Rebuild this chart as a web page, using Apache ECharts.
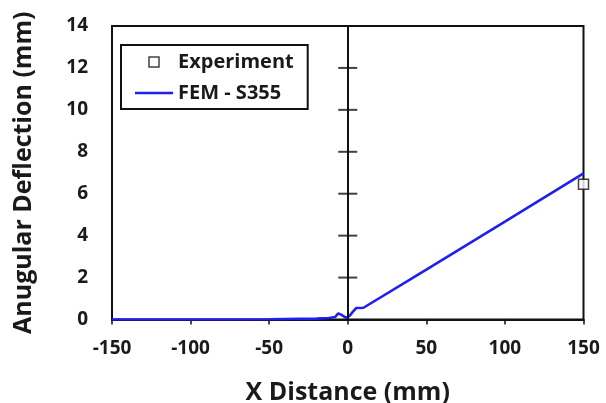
<!DOCTYPE html>
<html>
<head>
<meta charset="utf-8">
<script src="https://cdn.jsdelivr.net/npm/echarts@6/dist/echarts.min.js"></script>
<style>
html,body{margin:0;padding:0;background:#fff;}
#chart{width:606px;height:403px;}
</style>
</head>
<body>
<div id="chart"></div>
<script>
const femX = [-150, -100, -50, -20, -12, -8, -6, -4, -1, 0, 1.5, 3, 5.5, 10, 50, 100, 150];
const femY = [0, 0, 0.01, 0.04, 0.07, 0.12, 0.29, 0.22, 0.08, 0.03, 0.2, 0.35, 0.55, 0.56, 2.38, 4.67, 6.97];
const expX = [150];
const expY = [6.45];
const midTickX = [0, 0, 0, 0, 0, 0];
const midTickY = [2, 4, 6, 8, 10, 12];

const FONT = '"Open Sans", sans-serif';
const TXT = '#1a1a1a';
const BLUE = '#1f1ff0';

const chart = echarts.init(document.getElementById('chart'), null, {renderer: 'canvas'});
chart.setOption({
  animation: false,
  backgroundColor: '#fff',
  grid: {
    left: 112, right: 22.5, top: 26, bottom: 83.5,
    containLabel: false, outerBoundsMode: 'none',
    show: true, borderColor: '#111', borderWidth: 2, backgroundColor: 'transparent'
  },
  legend: {
    orient: 'vertical',
    left: 121, top: 45,
    data: [
      {name: 'Experiment', icon: 'path://M0,0H10V10H0Z', itemStyle: {color: '#fff', borderColor: '#111', borderWidth: 1.5}},
      {name: 'FEM - S355', icon: 'path://M0,0H38V2.6H0Z', itemStyle: {color: BLUE, borderWidth: 0}}
    ],
    borderColor: '#111', borderWidth: 2,
    padding: [7, 14, 6, 14],
    itemWidth: 38, itemHeight: 10, itemGap: 11, itemTextGap: 2,
    textStyle: {fontFamily: FONT, fontSize: 20, fontWeight: 'bold', color: TXT, lineHeight: 20}
  },
  xAxis: {
    type: 'value', min: -150, max: 150, interval: 50,
    name: 'X Distance (mm)', nameLocation: 'middle', nameGap: 61,
    nameTextStyle: {fontFamily: FONT, fontSize: 25, fontWeight: 'bold', color: TXT},
    axisLine: {show: true, lineStyle: {color: '#111', width: 2}},
    axisTick: {show: true, inside: false, length: 5, lineStyle: {color: '#111', width: 1.5}},
    axisLabel: {fontFamily: FONT, fontSize: 19, fontWeight: 'bold', color: TXT, margin: 20},
    splitLine: {show: false}
  },
  yAxis: {
    type: 'value', min: 0, max: 14, interval: 2,
    name: 'Anugular Deflection (mm)', nameLocation: 'middle', nameGap: 76, nameRotate: 90,
    nameTextStyle: {fontFamily: FONT, fontSize: 25, fontWeight: 'bold', color: TXT},
    axisLine: {show: true, onZero: false, lineStyle: {color: '#111', width: 2}},
    axisTick: {show: false},
    axisLabel: {fontFamily: FONT, fontSize: 19, fontWeight: 'bold', color: TXT, margin: 24},
    splitLine: {show: false}
  },
  series: [
    {
      name: 'Experiment', type: 'scatter',
      data: expX.map((x, i) => [x, expY[i]]),
      symbol: 'rect', symbolSize: 10,
      itemStyle: {color: '#fff', borderColor: '#111', borderWidth: 1.5},
      z: 5
    },
    {
      name: 'FEM - S355', type: 'line',
      data: femX.map((x, i) => [x, femY[i]]),
      showSymbol: false, symbol: 'none',
      lineStyle: {color: BLUE, width: 2.6},
      itemStyle: {color: BLUE},
      markLine: {
        silent: true, symbol: 'none', label: {show: false},
        lineStyle: {color: '#111', width: 2, type: 'solid'},
        data: [{xAxis: 0}]
      },
      z: 3
    },
    {
      name: 'midTicks', type: 'scatter',
      data: midTickX.map((x, i) => [x, midTickY[i]]),
      symbol: 'rect', symbolSize: [19, 2],
      itemStyle: {color: '#111'},
      silent: true, z: 4
    }
  ]
});
</script>
</body>
</html>
